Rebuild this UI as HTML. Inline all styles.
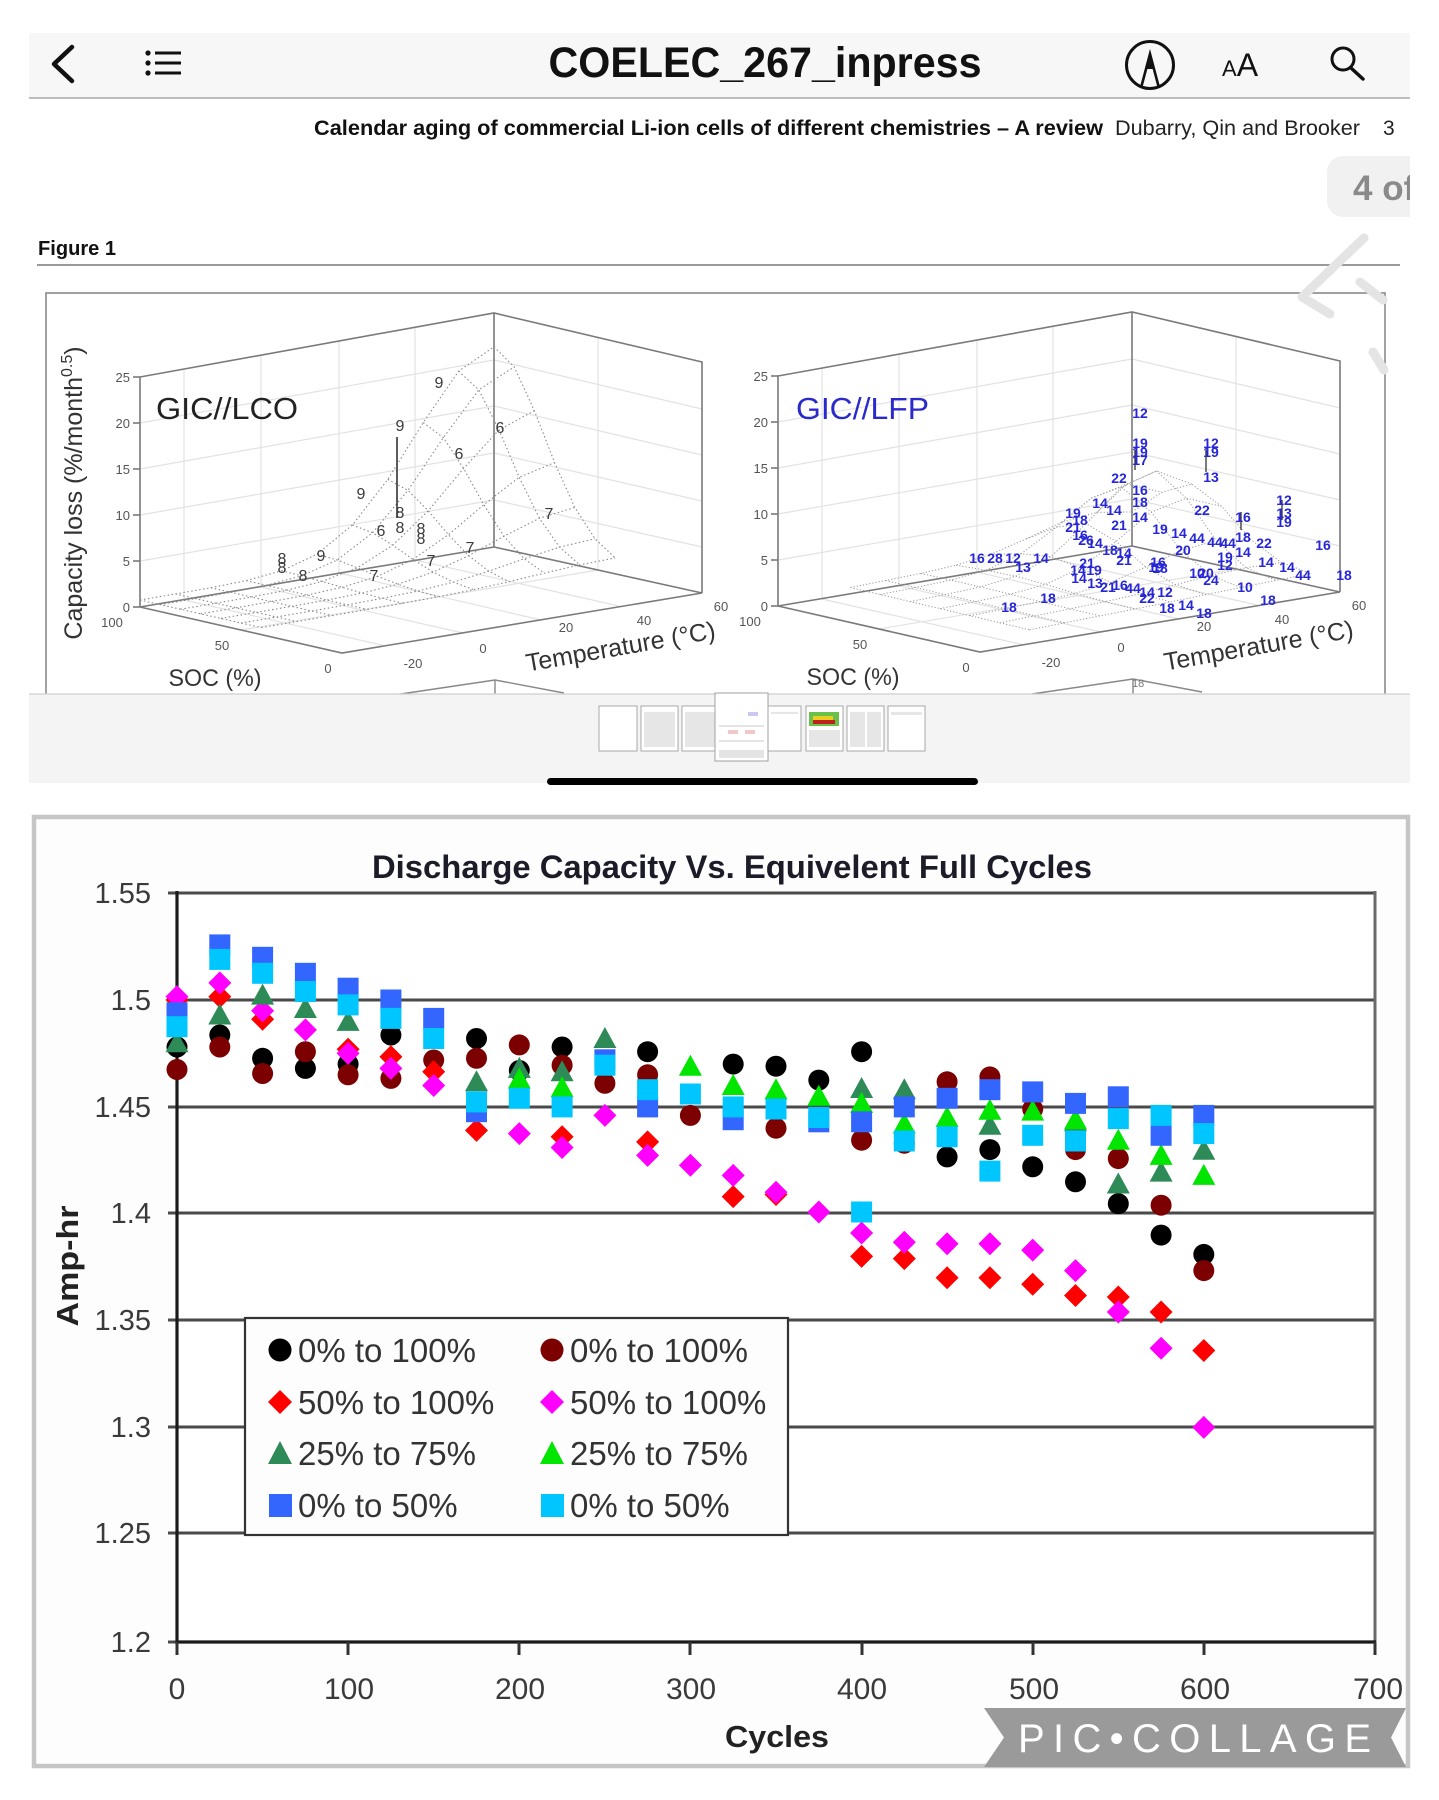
<!DOCTYPE html>
<html><head><meta charset="utf-8"><style>
html,body{margin:0;padding:0;background:#fff;}
svg{display:block;font-family:"Liberation Sans",Arial,sans-serif;}
</style></head><body>
<svg width="1439" height="1800" viewBox="0 0 1439 1800" xmlns="http://www.w3.org/2000/svg">
<defs>
<circle id="mc" r="10.5"/>
<rect id="ms" x="-10.5" y="-10.5" width="21" height="21"/>
<path id="md" d="M0,-11.5L11.5,0L0,11.5L-11.5,0Z"/>
<path id="mt" d="M0,-11.5L11.5,9.5L-11.5,9.5Z"/>
<g id="ax3d">
 <g stroke="#e2e2e2" stroke-width="1.2" fill="none">
  <line x1="140" y1="561" x2="494" y2="500"/>
  <line x1="140" y1="515" x2="494" y2="453"/>
  <line x1="140" y1="469" x2="494" y2="406"/>
  <line x1="140" y1="423" x2="494" y2="360"/>
  <line x1="184" y1="370" x2="184" y2="600"/>
  <line x1="261" y1="355" x2="261" y2="587"/>
  <line x1="339" y1="341" x2="339" y2="573"/>
  <line x1="415" y1="327" x2="415" y2="560"/>
  <line x1="494" y1="500" x2="702" y2="547"/>
  <line x1="494" y1="453" x2="702" y2="501"/>
  <line x1="494" y1="406" x2="702" y2="455"/>
  <line x1="494" y1="360" x2="702" y2="409"/>
  <line x1="598" y1="337" x2="598" y2="570"/>
  <line x1="184" y1="600" x2="386" y2="646"/>
  <line x1="261" y1="587" x2="463" y2="633"/>
  <line x1="339" y1="573" x2="541" y2="620"/>
  <line x1="415" y1="560" x2="619" y2="606"/>
  <line x1="241" y1="630" x2="598" y2="570"/>
 </g>
 <g stroke="#7a7a7a" stroke-width="1.6" fill="none">
  <polyline points="140,607 140,377 494,313 702,362 702,593"/>
  <line x1="494" y1="313" x2="494" y2="547"/>
  <line x1="140" y1="607" x2="494" y2="547"/>
  <line x1="494" y1="547" x2="702" y2="593"/>
  <polyline points="140,607 342,653 702,593"/>
  <line x1="133" y1="607" x2="140" y2="607"/><line x1="133" y1="561" x2="140" y2="561"/>
  <line x1="133" y1="515" x2="140" y2="515"/><line x1="133" y1="469" x2="140" y2="469"/>
  <line x1="133" y1="423" x2="140" y2="423"/><line x1="133" y1="377" x2="140" y2="377"/>
 </g>
 <g font-size="13" fill="#555" text-anchor="end">
  <text x="130" y="382">25</text><text x="130" y="428">20</text><text x="130" y="474">15</text>
  <text x="130" y="520">10</text><text x="130" y="566">5</text><text x="130" y="612">0</text>
 </g>
 <g font-size="13" fill="#555" text-anchor="middle">
  <text x="112" y="627">100</text><text x="222" y="650">50</text><text x="328" y="673">0</text>
  <text x="413" y="668">-20</text><text x="483" y="653">0</text><text x="566" y="632">20</text>
  <text x="644" y="625">40</text><text x="721" y="611">60</text>
 </g>
 <text x="215" y="686" font-size="24" fill="#333" text-anchor="middle" textLength="93" lengthAdjust="spacingAndGlyphs">SOC (%)</text>
 <text transform="translate(622,655) rotate(-10)" font-size="25" fill="#333" text-anchor="middle" textLength="192" lengthAdjust="spacingAndGlyphs">Temperature (°C)</text>
 <g stroke="#888" stroke-width="1.4" fill="none">
  <polyline points="394,695 495,680 564,693"/><line x1="495" y1="680" x2="495" y2="695"/>
 </g>
</g>
</defs>

<!-- header bar -->
<rect x="29" y="33" width="1381" height="65" fill="#f7f7f7"/>
<line x1="29" y1="98" x2="1410" y2="98" stroke="#a8a8a8" stroke-width="1.5"/>
<polyline points="72,47 54,64 72,81" fill="none" stroke="#111" stroke-width="4.5" stroke-linecap="round" stroke-linejoin="round"/>
<g fill="#111"><circle cx="148" cy="53" r="2.6"/><circle cx="148" cy="63" r="2.6"/><circle cx="148" cy="73" r="2.6"/></g>
<g stroke="#111" stroke-width="3"><line x1="155" y1="53" x2="181" y2="53"/><line x1="155" y1="63" x2="181" y2="63"/><line x1="155" y1="73" x2="181" y2="73"/></g>
<text x="765" y="77" font-size="43" font-weight="bold" fill="#111" text-anchor="middle" textLength="433" lengthAdjust="spacingAndGlyphs">COELEC_267_inpress</text>
<circle cx="1150" cy="65" r="23.5" fill="none" stroke="#111" stroke-width="3"/>
<polyline points="1141,88 1150,54 1159,88" fill="none" stroke="#111" stroke-width="2.6"/>
<path d="M1145.5,69 L1150,53 L1154.5,69 Z" fill="#111"/>
<text x="1222" y="76" font-size="22" fill="#111">A<tspan font-size="32">A</tspan></text>
<circle cx="1343" cy="59" r="11" fill="none" stroke="#111" stroke-width="3"/>
<line x1="1351" y1="68" x2="1363" y2="79" stroke="#111" stroke-width="3.5" stroke-linecap="round"/>

<!-- page header text -->
<text x="314" y="135" font-size="21" font-weight="bold" fill="#111" textLength="789" lengthAdjust="spacingAndGlyphs">Calendar aging of commercial Li-ion cells of different chemistries – A review</text>
<text x="1115" y="135" font-size="21" fill="#222" textLength="245" lengthAdjust="spacingAndGlyphs">Dubarry, Qin and Brooker</text>
<text x="1383" y="135" font-size="21" fill="#222">3</text>

<!-- page badge -->
<rect x="1327" y="156" width="110" height="61" rx="16" fill="#f1f1f1"/>
<text x="1353" y="200" font-size="35" font-weight="bold" fill="#8a8a8a">4 of</text>
<rect x="1410" y="150" width="29" height="75" fill="#fff"/>

<text x="38" y="255" font-size="20" font-weight="bold" fill="#111" textLength="78" lengthAdjust="spacingAndGlyphs">Figure 1</text>
<line x1="37" y1="265" x2="1400" y2="265" stroke="#9a9a9a" stroke-width="2"/>

<!-- figure frame -->
<rect x="46" y="293" width="1339" height="420" fill="#fff" stroke="#8a8a8a" stroke-width="1.6"/>

<use href="#ax3d"/>
<use href="#ax3d" transform="translate(638,-1)"/>

<!-- left mesh -->
<g fill="none" stroke="#8a8a8a" stroke-width="1.1" stroke-dasharray="1.5 2.5">
<polyline points="140,600 175.4,594 210.8,587.7 246.2,580.6 281.6,570.8 317,554.2 352.4,525 387.8,479.4 423.2,422.6 458.6,371.2 494,346.8"/>
<polyline points="160.2,604.6 195.6,598.6 231,592.3 266.4,585.3 301.8,575.8 337.2,560 372.6,532.7 408,490.3 443.4,437.6 478.8,389.8 514.2,366.9"/>
<polyline points="180.4,609.2 215.8,603.2 251.2,597 286.6,590.2 322,581.5 357.4,567.8 392.8,545.2 428.2,510.8 463.6,468.4 499,429.9 534.4,410.7"/>
<polyline points="200.6,613.8 236,607.8 271.4,601.6 306.8,595.1 342.2,587.3 377.6,576.3 413,559.4 448.4,534.7 483.8,504.7 519.2,477.3 554.6,462.6"/>
<polyline points="220.8,618.4 256.2,612.4 291.6,606.3 327,600 362.4,593 397.8,584.2 433.2,572.1 468.6,555.6 504,536.2 539.4,518.3 574.8,507.4"/>
<polyline points="241,623 276.4,617 311.8,611 347.2,604.8 382.6,598.3 418,591 453.4,582.1 488.8,571.2 524.2,558.8 559.6,547.1 595,538.8"/>
<polyline points="261.2,627.6 296.6,621.6 332,615.6 367.4,609.5 402.8,603.3 438.2,596.8 473.6,589.6 509,581.7 544.4,573.1 579.8,564.9 615.2,557.9"/>
<polyline points="140,600 160.2,604.6 180.4,609.2 200.6,613.8 220.8,618.4 241,623 261.2,627.6"/>
<polyline points="175.4,594 195.6,598.6 215.8,603.2 236,607.8 256.2,612.4 276.4,617 296.6,621.6"/>
<polyline points="210.8,587.7 231,592.3 251.2,597 271.4,601.6 291.6,606.3 311.8,611 332,615.6"/>
<polyline points="246.2,580.6 266.4,585.3 286.6,590.2 306.8,595.1 327,600 347.2,604.8 367.4,609.5"/>
<polyline points="281.6,570.8 301.8,575.8 322,581.5 342.2,587.3 362.4,593 382.6,598.3 402.8,603.3"/>
<polyline points="317,554.2 337.2,560 357.4,567.8 377.6,576.3 397.8,584.2 418,591 438.2,596.8"/>
<polyline points="352.4,525 372.6,532.7 392.8,545.2 413,559.4 433.2,572.1 453.4,582.1 473.6,589.6"/>
<polyline points="387.8,479.4 408,490.3 428.2,510.8 448.4,534.7 468.6,555.6 488.8,571.2 509,581.7"/>
<polyline points="423.2,422.6 443.4,437.6 463.6,468.4 483.8,504.7 504,536.2 524.2,558.8 544.4,573.1"/>
<polyline points="458.6,371.2 478.8,389.8 499,429.9 519.2,477.3 539.4,518.3 559.6,547.1 579.8,564.9"/>
<polyline points="494,346.8 514.2,366.9 534.4,410.7 554.6,462.6 574.8,507.4 595,538.8 615.2,557.9"/>
</g>

<!-- right mesh -->
<g fill="none" stroke="#9a9a9a" stroke-width="1" stroke-dasharray="1.2 2">
<polyline points="850.4,587.5 885.6,580.5 920.8,573.4 956,565.2 991.2,554.2 1026.4,538.8 1061.6,522.3 1096.8,512.4 1132,511.9"/>
<polyline points="880.3,594.5 915.5,587.5 950.7,580.1 985.9,570.3 1021.1,553.8 1056.3,527.2 1091.5,498 1126.7,484.1 1161.9,492.3"/>
<polyline points="910.1,601.6 945.3,594.6 980.5,586.9 1015.7,576.2 1050.9,556.6 1086.1,523.7 1121.3,487.2 1156.5,471 1191.7,484.1"/>
<polyline points="940,608.6 975.2,601.6 1010.4,594.2 1045.6,584.4 1080.8,567.9 1116,541.3 1151.2,512.1 1186.4,498.2 1221.6,506.4"/>
<polyline points="969.8,615.7 1005,608.7 1040.2,601.6 1075.4,593.4 1110.6,582.4 1145.8,567 1181,550.5 1216.2,540.6 1251.4,540.1"/>
<polyline points="999.7,622.7 1034.9,615.8 1070.1,608.8 1105.3,601.6 1140.5,593.7 1175.7,584.7 1210.9,575.4 1246.1,567.8 1281.3,562.4"/>
<polyline points="1029.5,629.8 1064.7,622.9 1099.9,615.9 1135.1,609 1170.3,601.9 1205.5,594.7 1240.7,587.5 1275.9,580.4 1311.1,573.7"/>
<polyline points="850.4,587.5 880.3,594.5 910.1,601.6 940,608.6 969.8,615.7 999.7,622.7 1029.5,629.8"/>
<polyline points="885.6,580.5 915.5,587.5 945.3,594.6 975.2,601.6 1005,608.7 1034.9,615.8 1064.7,622.9"/>
<polyline points="920.8,573.4 950.7,580.1 980.5,586.9 1010.4,594.2 1040.2,601.6 1070.1,608.8 1099.9,615.9"/>
<polyline points="956,565.2 985.9,570.3 1015.7,576.2 1045.6,584.4 1075.4,593.4 1105.3,601.6 1135.1,609"/>
<polyline points="991.2,554.2 1021.1,553.8 1050.9,556.6 1080.8,567.9 1110.6,582.4 1140.5,593.7 1170.3,601.9"/>
<polyline points="1026.4,538.8 1056.3,527.2 1086.1,523.7 1116,541.3 1145.8,567 1175.7,584.7 1205.5,594.7"/>
<polyline points="1061.6,522.3 1091.5,498 1121.3,487.2 1151.2,512.1 1181,550.5 1210.9,575.4 1240.7,587.5"/>
<polyline points="1096.8,512.4 1126.7,484.1 1156.5,471 1186.4,498.2 1216.2,540.6 1246.1,567.8 1275.9,580.4"/>
<polyline points="1132,511.9 1161.9,492.3 1191.7,484.1 1221.6,506.4 1251.4,540.1 1281.3,562.4 1311.1,573.7"/>
</g>

<!-- left chart labels -->
<text transform="translate(82,493) rotate(-90)" font-size="25" fill="#333" text-anchor="middle">Capacity loss (%/month<tspan font-size="16" dy="-10">0.5</tspan><tspan dy="10">)</tspan></text>
<text x="156" y="419" font-size="31" fill="#222" textLength="142" lengthAdjust="spacingAndGlyphs">GIC//LCO</text>
<line x1="397" y1="437" x2="397" y2="518" stroke="#333" stroke-width="1.6"/>
<g font-size="16" fill="#3a3a3a" text-anchor="middle">
 <text x="439" y="388">9</text><text x="400" y="431">9</text><text x="500" y="433">6</text>
 <text x="459" y="459">6</text><text x="361" y="499">9</text><text x="400" y="518">8</text>
 <text x="381" y="536">6</text><text x="400" y="533">8</text><text x="421" y="534">8</text>
 <text x="421" y="544">8</text><text x="549" y="519">7</text><text x="321" y="561">9</text>
 <text x="282" y="564">8</text><text x="282" y="573">8</text><text x="303" y="581">8</text>
 <text x="470" y="553">7</text><text x="431" y="566">7</text><text x="374" y="581">7</text>
</g>

<!-- right chart labels -->
<text x="796" y="419" font-size="31" fill="#2a2acc" textLength="133" lengthAdjust="spacingAndGlyphs">GIC//LFP</text>
<g stroke="#333" stroke-width="1.3">
 <line x1="1135" y1="450" x2="1135" y2="470"/><line x1="1206" y1="450" x2="1206" y2="472"/>
 <line x1="1282" y1="500" x2="1282" y2="520"/><line x1="1241" y1="512" x2="1241" y2="530"/>
</g>
<g font-size="14" fill="#2626d6" text-anchor="middle" font-weight="bold">
 <text x="1140" y="418">12</text><text x="1140" y="448">19</text><text x="1140" y="457">19</text><text x="1140" y="465">17</text>
 <text x="1211" y="448">12</text><text x="1211" y="457">19</text><text x="1211" y="482">13</text>
 <text x="1119" y="483">22</text><text x="1140" y="495">16</text><text x="1140" y="507">18</text><text x="1140" y="522">14</text>
 <text x="1100" y="508">14</text><text x="1114" y="515">14</text><text x="1119" y="530">21</text>
 <text x="1202" y="515">22</text><text x="1243" y="522">16</text>
 <text x="1284" y="505">12</text><text x="1284" y="518">13</text><text x="1284" y="527">19</text>
 <text x="1243" y="542">18</text><text x="1264" y="548">22</text><text x="1323" y="550">16</text>
 <text x="1243" y="557">14</text><text x="1266" y="567">14</text><text x="1287" y="572">14</text><text x="1303" y="580">44</text>
 <text x="1344" y="580">18</text>
 <text x="1160" y="534">19</text><text x="1179" y="538">14</text><text x="1197" y="543">44</text><text x="1215" y="547">44</text><text x="1228" y="548">44</text>
 <text x="1183" y="555">20</text><text x="1225" y="562">19</text><text x="1225" y="570">12</text>
 <text x="1073" y="518">19</text><text x="1080" y="525">18</text><text x="1073" y="532">21</text><text x="1080" y="540">16</text><text x="1095" y="548">14</text><text x="1086" y="545">26</text>
 <text x="977" y="563">16</text><text x="995" y="563">28</text><text x="1013" y="563">12</text><text x="1023" y="572">13</text><text x="1041" y="563">14</text>
 <text x="1078" y="575">14</text><text x="1087" y="568">21</text><text x="1094" y="575">19</text>
 <text x="1110" y="555">18</text><text x="1124" y="558">14</text><text x="1124" y="565">21</text>
 <text x="1158" y="567">16</text><text x="1156" y="572">19</text><text x="1160" y="573">18</text>
 <text x="1079" y="583">14</text><text x="1095" y="588">13</text><text x="1108" y="592">21</text><text x="1120" y="590">16</text><text x="1133" y="593">44</text>
 <text x="1147" y="597">14</text><text x="1147" y="603">22</text><text x="1165" y="597">12</text>
 <text x="1167" y="613">18</text><text x="1186" y="610">14</text><text x="1204" y="618">18</text>
 <text x="1197" y="578">10</text><text x="1206" y="578">20</text><text x="1211" y="585">24</text>
 <text x="1245" y="592">10</text><text x="1268" y="605">18</text>
 <text x="1009" y="612">18</text><text x="1048" y="603">18</text>
</g>
<text x="1132" y="687" font-size="11" fill="#777">18</text>

<!-- gesture hints -->
<g fill="none" stroke="#e4e4e4" stroke-width="9" stroke-linecap="round" stroke-linejoin="round">
 <polyline points="1364,238 1302,297 1330,314"/>
 <polyline points="1360,282 1383,300"/>
 <polyline points="1373,352 1384,370"/>
</g>

<!-- thumbnail strip -->
<rect x="29" y="694" width="1381" height="89" fill="#f4f4f4"/>
<line x1="29" y1="694" x2="1410" y2="694" stroke="#cfcfcf" stroke-width="1.2"/>
<g fill="#fff" stroke="#a9a9a9" stroke-width="1">
 <rect x="599" y="706" width="38" height="45"/>
 <rect x="641" y="706" width="37" height="45"/>
 <rect x="682" y="706" width="37" height="45"/>
 <rect x="768" y="706" width="33" height="45"/>
 <rect x="806" y="706" width="37" height="45"/>
 <rect x="847" y="706" width="37" height="45"/>
 <rect x="888" y="706" width="37" height="45"/>
</g>
<g fill="#e6e6e6">
 <rect x="644" y="712" width="31" height="35"/>
 <rect x="685" y="712" width="30" height="35"/>
 <rect x="850" y="712" width="15" height="35"/><rect x="867" y="712" width="14" height="35"/>
 <rect x="771" y="712" width="27" height="2"/><rect x="809" y="730" width="31" height="17"/>
 <rect x="891" y="712" width="31" height="3"/>
</g>
<rect x="809" y="712" width="30" height="14" fill="#6bc04a"/>
<rect x="813" y="716" width="20" height="4" fill="#e8d020"/>
<rect x="813" y="720" width="22" height="4" fill="#c02020"/>
<rect x="715" y="693" width="53" height="68" fill="#fff" stroke="#a0a0a0" stroke-width="1"/>
<g fill="#e4e4e4"><rect x="719" y="725" width="45" height="2"/><rect x="719" y="740" width="45" height="2"/><rect x="719" y="750" width="45" height="8"/></g>
<g fill="#f0c8c8"><rect x="728" y="730" width="10" height="4"/><rect x="745" y="730" width="10" height="4"/></g>
<g fill="#c8c8f0"><rect x="748" y="712" width="10" height="4"/></g>
<rect x="547" y="778" width="431" height="7" rx="3.5" fill="#000"/>

<!-- bottom chart frame -->
<rect x="34" y="817" width="1374" height="949" fill="#fdfdfd" stroke="#c6c6c6" stroke-width="4.5"/>
<text x="732" y="878" font-size="32" font-weight="bold" fill="#1c1c28" text-anchor="middle" textLength="720" lengthAdjust="spacingAndGlyphs">Discharge Capacity Vs. Equivelent Full Cycles</text>
<rect x="177" y="893" width="1198" height="749" fill="#fff"/>
<g stroke="#4a4a4a" stroke-width="3">
 <line x1="168" y1="893" x2="1375" y2="893"/>
 <line x1="168" y1="1000" x2="1375" y2="1000"/>
 <line x1="168" y1="1107" x2="1375" y2="1107"/>
 <line x1="168" y1="1213" x2="1375" y2="1213"/>
 <line x1="168" y1="1320" x2="1375" y2="1320"/>
 <line x1="168" y1="1427" x2="1375" y2="1427"/>
 <line x1="168" y1="1533" x2="1375" y2="1533"/>
 <line x1="168" y1="1642" x2="177" y2="1642"/>
</g>
<line x1="1375" y1="891" x2="1375" y2="1643" stroke="#6a6a6a" stroke-width="3"/>
<line x1="177" y1="891" x2="177" y2="1644" stroke="#1a1a1a" stroke-width="3.2"/>
<line x1="176" y1="1642" x2="1376" y2="1642" stroke="#1a1a1a" stroke-width="3.2"/>
<g stroke="#333" stroke-width="3">
 <line x1="348" y1="1642" x2="348" y2="1655"/><line x1="519" y1="1642" x2="519" y2="1655"/>
 <line x1="690" y1="1642" x2="690" y2="1655"/><line x1="862" y1="1642" x2="862" y2="1655"/>
 <line x1="1033" y1="1642" x2="1033" y2="1655"/><line x1="1204" y1="1642" x2="1204" y2="1655"/>
 <line x1="1375" y1="1642" x2="1375" y2="1655"/><line x1="177" y1="1642" x2="177" y2="1655"/>
</g>
<g font-size="29" fill="#3a3a3a" text-anchor="end">
 <text x="151" y="903">1.55</text><text x="151" y="1010">1.5</text><text x="151" y="1117">1.45</text>
 <text x="151" y="1223">1.4</text><text x="151" y="1330">1.35</text><text x="151" y="1437">1.3</text>
 <text x="151" y="1543">1.25</text><text x="151" y="1652">1.2</text>
</g>
<g font-size="30" fill="#3a3a3a" text-anchor="middle">
 <text x="177" y="1699">0</text><text x="349" y="1699">100</text><text x="520" y="1699">200</text>
 <text x="691" y="1699">300</text><text x="862" y="1699">400</text><text x="1034" y="1699">500</text>
 <text x="1205" y="1699">600</text><text x="1378" y="1699">700</text>
</g>
<text transform="translate(78,1266) rotate(-90)" font-size="31" font-weight="bold" fill="#222" text-anchor="middle" textLength="121" lengthAdjust="spacingAndGlyphs">Amp-hr</text>
<text x="725" y="1747" font-size="31" font-weight="bold" fill="#222" textLength="104" lengthAdjust="spacingAndGlyphs">Cycles</text>

<!-- series: black -->
<g fill="#000">
<use href="#mc" x="177" y="1047"/><use href="#mc" x="219.8" y="1035"/><use href="#mc" x="262.6" y="1058.3"/>
<use href="#mc" x="305.4" y="1068.4"/><use href="#mc" x="348.1" y="1064.1"/><use href="#mc" x="390.9" y="1035"/>
<use href="#mc" x="476.5" y="1038.5"/><use href="#mc" x="519.3" y="1070.5"/><use href="#mc" x="562.1" y="1047"/>
<use href="#mc" x="647.6" y="1051.7"/><use href="#mc" x="733.2" y="1064.1"/><use href="#mc" x="776" y="1066.2"/>
<use href="#mc" x="818.8" y="1080.1"/><use href="#mc" x="861.6" y="1051.7"/><use href="#mc" x="947.1" y="1156.9"/>
<use href="#mc" x="989.9" y="1149.6"/><use href="#mc" x="1032.7" y="1166.8"/><use href="#mc" x="1075.5" y="1181.8"/>
<use href="#mc" x="1118.3" y="1203.7"/><use href="#mc" x="1161.1" y="1235.1"/><use href="#mc" x="1203.8" y="1254.4"/>
</g>
<!-- maroon -->
<g fill="#7d0000">
<use href="#mc" x="177" y="1069.5"/><use href="#mc" x="219.8" y="1047"/><use href="#mc" x="262.6" y="1073.5"/>
<use href="#mc" x="305.4" y="1051.7"/><use href="#mc" x="348.1" y="1074.8"/><use href="#mc" x="390.9" y="1078.4"/>
<use href="#mc" x="433.7" y="1060"/><use href="#mc" x="476.5" y="1058.3"/><use href="#mc" x="519.3" y="1044.9"/>
<use href="#mc" x="562.1" y="1065.2"/><use href="#mc" x="604.9" y="1083.3"/><use href="#mc" x="647.6" y="1074.8"/>
<use href="#mc" x="690.4" y="1115.4"/><use href="#mc" x="776" y="1128.2"/><use href="#mc" x="861.6" y="1140.2"/>
<use href="#mc" x="904.3" y="1143.2"/><use href="#mc" x="947.1" y="1081.8"/><use href="#mc" x="989.9" y="1076.9"/>
<use href="#mc" x="1032.7" y="1109"/><use href="#mc" x="1075.5" y="1149.6"/><use href="#mc" x="1118.3" y="1158.6"/>
<use href="#mc" x="1161.1" y="1205.2"/><use href="#mc" x="1203.8" y="1270.6"/>
</g>
<!-- red -->
<g fill="#ff0000">
<use href="#md" x="177" y="1000"/><use href="#md" x="219.8" y="996.6"/><use href="#md" x="262.6" y="1019.2"/>
<use href="#md" x="348.1" y="1049.2"/><use href="#md" x="390.9" y="1056.8"/><use href="#md" x="433.7" y="1071.8"/>
<use href="#md" x="476.5" y="1130.4"/><use href="#md" x="562.1" y="1136.8"/><use href="#md" x="647.6" y="1141.9"/>
<use href="#md" x="733.2" y="1196.6"/><use href="#md" x="776" y="1194.5"/><use href="#md" x="861.6" y="1256.4"/>
<use href="#md" x="904.3" y="1258.6"/><use href="#md" x="947.1" y="1277.8"/><use href="#md" x="989.9" y="1277.8"/>
<use href="#md" x="1032.7" y="1284.2"/><use href="#md" x="1075.5" y="1295.5"/><use href="#md" x="1118.3" y="1297"/>
<use href="#md" x="1161.1" y="1312"/><use href="#md" x="1203.8" y="1350.5"/>
</g>
<!-- magenta -->
<g fill="#ff00ff">
<use href="#md" x="177" y="996.6"/><use href="#md" x="219.8" y="982.9"/><use href="#md" x="262.6" y="1010.7"/>
<use href="#md" x="305.4" y="1029.9"/><use href="#md" x="348.1" y="1053.4"/><use href="#md" x="390.9" y="1068.4"/>
<use href="#md" x="433.7" y="1085.5"/><use href="#md" x="519.3" y="1133.6"/><use href="#md" x="562.1" y="1147.5"/>
<use href="#md" x="604.9" y="1115.4"/><use href="#md" x="647.6" y="1155.4"/><use href="#md" x="690.4" y="1165.3"/>
<use href="#md" x="733.2" y="1175.4"/><use href="#md" x="776" y="1192.3"/><use href="#md" x="818.8" y="1212"/>
<use href="#md" x="861.6" y="1233"/><use href="#md" x="904.3" y="1242.2"/><use href="#md" x="947.1" y="1243.7"/>
<use href="#md" x="989.9" y="1243.7"/><use href="#md" x="1032.7" y="1250.1"/><use href="#md" x="1075.5" y="1270.6"/>
<use href="#md" x="1118.3" y="1312"/><use href="#md" x="1161.1" y="1348.3"/><use href="#md" x="1203.8" y="1427.4"/>
</g>
<!-- dark green -->
<g fill="#2e8b57">
<use href="#mt" x="177" y="1042.7"/><use href="#mt" x="219.8" y="1015"/><use href="#mt" x="262.6" y="995.1"/>
<use href="#mt" x="305.4" y="1008.5"/><use href="#mt" x="348.1" y="1021.4"/><use href="#mt" x="476.5" y="1081.8"/>
<use href="#mt" x="519.3" y="1068.4"/><use href="#mt" x="562.1" y="1071.8"/><use href="#mt" x="604.9" y="1038.5"/>
<use href="#mt" x="861.6" y="1088.5"/><use href="#mt" x="904.3" y="1089.7"/><use href="#mt" x="989.9" y="1125.2"/>
<use href="#mt" x="1075.5" y="1121.8"/><use href="#mt" x="1118.3" y="1184"/><use href="#mt" x="1161.1" y="1172.1"/>
<use href="#mt" x="1203.8" y="1150.3"/>
</g>
<!-- bright green -->
<g fill="#00e600">
<use href="#mt" x="519.3" y="1079.1"/><use href="#mt" x="562.1" y="1087.6"/><use href="#mt" x="690.4" y="1066.2"/>
<use href="#mt" x="733.2" y="1085.5"/><use href="#mt" x="776" y="1089.7"/><use href="#mt" x="818.8" y="1096.2"/>
<use href="#mt" x="861.6" y="1103.4"/><use href="#mt" x="904.3" y="1124"/><use href="#mt" x="947.1" y="1117.5"/>
<use href="#mt" x="989.9" y="1110.3"/><use href="#mt" x="1032.7" y="1111.1"/><use href="#mt" x="1075.5" y="1119.7"/>
<use href="#mt" x="1118.3" y="1140.2"/><use href="#mt" x="1161.1" y="1155.4"/><use href="#mt" x="1203.8" y="1175.4"/>
</g>
<!-- blue squares -->
<g fill="#3366ff">
<use href="#ms" x="177" y="1012.8"/><use href="#ms" x="219.8" y="944.9"/><use href="#ms" x="262.6" y="957.3"/>
<use href="#ms" x="305.4" y="973.3"/><use href="#ms" x="348.1" y="988.2"/><use href="#ms" x="390.9" y="1000"/>
<use href="#ms" x="433.7" y="1018.4"/><use href="#ms" x="476.5" y="1111.7"/><use href="#ms" x="604.9" y="1059.8"/>
<use href="#ms" x="647.6" y="1106.9"/><use href="#ms" x="733.2" y="1119.7"/><use href="#ms" x="818.8" y="1121.8"/>
<use href="#ms" x="861.6" y="1121.8"/><use href="#ms" x="904.3" y="1106.9"/><use href="#ms" x="947.1" y="1098.3"/>
<use href="#ms" x="989.9" y="1089.7"/><use href="#ms" x="1032.7" y="1091.9"/><use href="#ms" x="1075.5" y="1103.4"/>
<use href="#ms" x="1118.3" y="1096.8"/><use href="#ms" x="1161.1" y="1135.3"/><use href="#ms" x="1203.8" y="1115.4"/>
</g>
<!-- cyan squares -->
<g fill="#00c6ff">
<use href="#ms" x="177" y="1026.7"/><use href="#ms" x="219.8" y="959.4"/><use href="#ms" x="262.6" y="973.3"/>
<use href="#ms" x="305.4" y="991.5"/><use href="#ms" x="348.1" y="1004.9"/><use href="#ms" x="390.9" y="1018.4"/>
<use href="#ms" x="433.7" y="1038.5"/><use href="#ms" x="476.5" y="1101.9"/><use href="#ms" x="519.3" y="1098.3"/>
<use href="#ms" x="562.1" y="1106.9"/><use href="#ms" x="604.9" y="1065.2"/><use href="#ms" x="647.6" y="1089.7"/>
<use href="#ms" x="690.4" y="1094"/><use href="#ms" x="733.2" y="1106.9"/><use href="#ms" x="776" y="1109"/>
<use href="#ms" x="818.8" y="1117.5"/><use href="#ms" x="861.6" y="1212"/><use href="#ms" x="904.3" y="1141"/>
<use href="#ms" x="947.1" y="1136.8"/><use href="#ms" x="989.9" y="1171.1"/><use href="#ms" x="1032.7" y="1135.3"/>
<use href="#ms" x="1075.5" y="1141"/><use href="#ms" x="1118.3" y="1118.6"/><use href="#ms" x="1161.1" y="1115.4"/>
<use href="#ms" x="1203.8" y="1133.6"/>
</g>

<!-- legend -->
<rect x="245" y="1318" width="543" height="217" fill="#fdfdfd" stroke="#333" stroke-width="2.2"/>
<circle cx="280" cy="1350" r="11.5" fill="#000"/>
<circle cx="552" cy="1350" r="11.5" fill="#7d0000"/>
<path d="M280,1390L292,1402L280,1414L268,1402Z" fill="#ff0000"/>
<path d="M552,1390L564,1402L552,1414L540,1402Z" fill="#ff00ff"/>
<path d="M280,1441L292,1464L268,1464Z" fill="#2e8b57"/>
<path d="M552,1441L564,1464L540,1464Z" fill="#00e600"/>
<rect x="269" y="1494" width="23" height="23" fill="#3366ff"/>
<rect x="541" y="1494" width="23" height="23" fill="#00c6ff"/>
<g font-size="33" fill="#333">
 <text x="298" y="1362">0% to 100%</text><text x="570" y="1362">0% to 100%</text>
 <text x="298" y="1414">50% to 100%</text><text x="570" y="1414">50% to 100%</text>
 <text x="298" y="1465">25% to 75%</text><text x="570" y="1465">25% to 75%</text>
 <text x="298" y="1517">0% to 50%</text><text x="570" y="1517">0% to 50%</text>
</g>

<!-- watermark -->
<path d="M984,1708 L1406,1708 L1391,1737.5 L1406,1767 L984,1767 L1004,1737.5 Z" fill="#9a9a9a"/>
<text x="1018" y="1752" font-size="40" fill="#fff" textLength="353" lengthAdjust="spacing">PIC•COLLAGE</text>
</svg>
</body></html>
